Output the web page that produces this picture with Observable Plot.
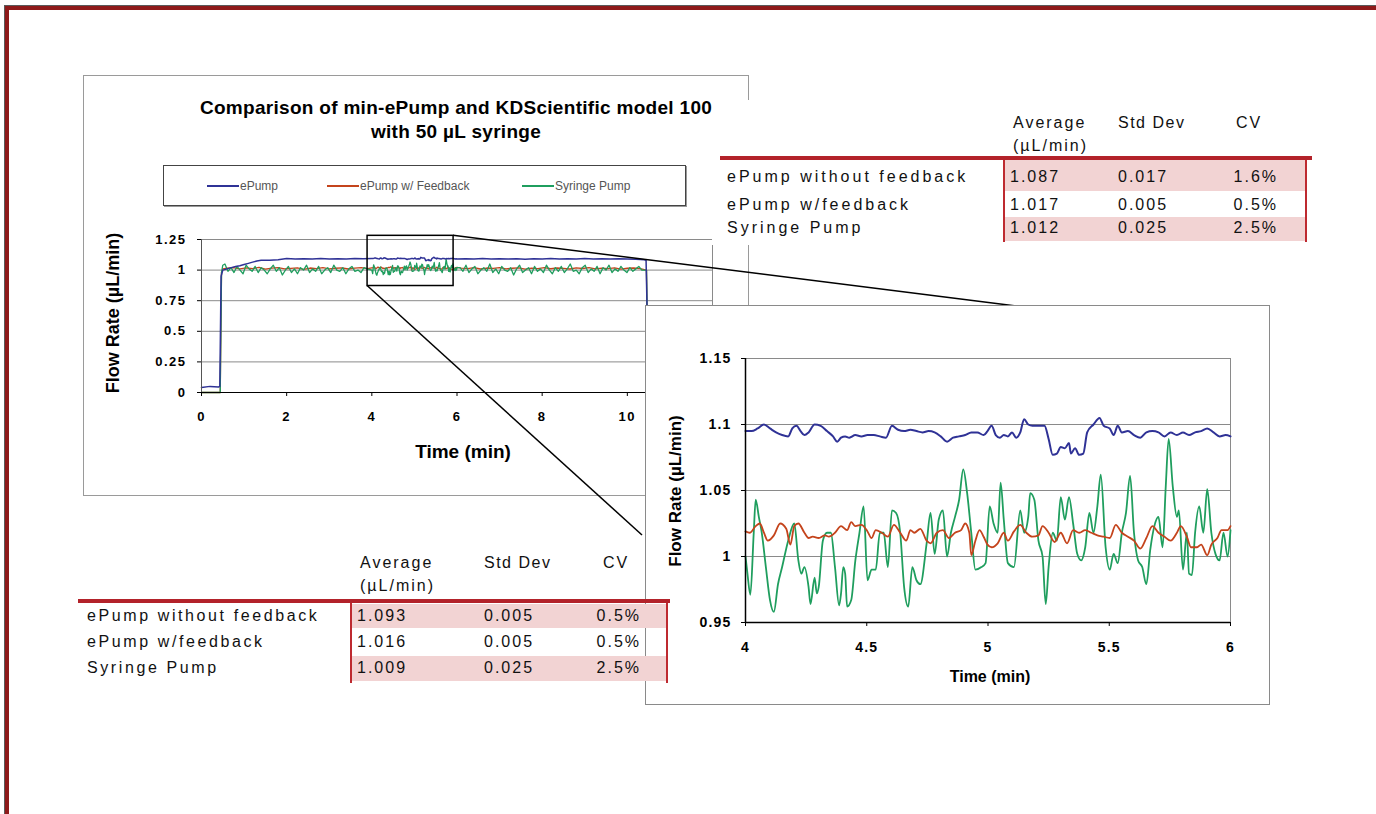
<!DOCTYPE html>
<html><head><meta charset="utf-8">
<script src="https://cdn.jsdelivr.net/npm/d3@7"></script>
<script src="https://cdn.jsdelivr.net/npm/@observablehq/plot@0.6"></script>
<style>
html,body{margin:0;padding:0;background:#fff;width:1376px;height:814px;overflow:hidden;position:relative;font-family:'Liberation Sans',Arial,sans-serif;}
.abs{position:absolute;}
#frame{position:absolute;left:5px;top:6px;width:2000px;height:2000px;border-top:4px solid #8e1a1a;border-left:4px solid #8e1a1a;box-shadow:-1px -1px 0 #5a5a5a;}
.panel{position:absolute;background:#fff;border:1px solid #9a9a9a;box-sizing:border-box;}
.bold{font-weight:bold;color:#000;white-space:nowrap;}
.rot{transform:translate(-50%,-50%) rotate(-90deg);}
.ctr{transform:translate(-50%,-50%);}
.tbl{position:absolute;}
.tbl div{position:absolute;white-space:nowrap;}
.tt{font-size:16px;letter-spacing:2px;line-height:20px;color:#111;}
.leg{font-size:12px;color:#555;line-height:14px;white-space:nowrap;}
svg{overflow:visible;}
</style>
</head><body>
<div id="frame"></div>
<div id="root"></div>
<script>
// ---------- DATA ----------
const seriesNames = ["ePump", "ePump w/ Feedback", "Syringe Pump"];
const seriesColors = ["#2f3296", "#c4441c", "#1f9e5e"];
const titleLines = ["Comparison of min-ePump and KDScientific model 100", "with 50 \u00b5L syringe"];
const yTitle = "Flow Rate (\u00b5L/min)";
const xTitle = "Time (min)";

const mainXTicks = [0, 2, 4, 6, 8, 10];
const mainYTicks = [0, 0.25, 0.5, 0.75, 1, 1.25];
const zoomXTicks = [4, 4.5, 5, 5.5, 6];
const zoomYTicks = [0.95, 1, 1.05, 1.1, 1.15];
const zoomWindow = [{x1: 3.9, x2: 5.92, y1: 0.87, y2: 1.28}];

// zoomed window 4-6 min
const zoomBlueT = [4.000,4.025,4.050,4.076,4.101,4.126,4.151,4.176,4.193,4.210,4.227,4.243,4.260,4.285,4.310,4.336,4.361,4.378,4.394,4.411,4.428,4.453,4.478,4.503,4.529,4.554,4.579,4.604,4.629,4.654,4.680,4.705,4.730,4.755,4.780,4.805,4.831,4.856,4.880,4.906,4.931,4.956,4.982,4.998,5.015,5.032,5.049,5.065,5.082,5.099,5.116,5.133,5.149,5.166,5.183,5.208,5.233,5.250,5.267,5.284,5.300,5.317,5.334,5.342,5.359,5.376,5.393,5.409,5.435,5.460,5.477,5.502,5.518,5.535,5.552,5.577,5.602,5.628,5.653,5.678,5.703,5.728,5.753,5.779,5.804,5.829,5.854,5.879,5.904,5.930,5.955,5.980,6.000];
const zoomBlueV = [1.095,1.095,1.097,1.100,1.097,1.094,1.092,1.091,1.097,1.099,1.095,1.092,1.094,1.100,1.099,1.095,1.091,1.087,1.090,1.091,1.090,1.092,1.091,1.092,1.092,1.091,1.090,1.099,1.096,1.095,1.096,1.095,1.094,1.095,1.094,1.091,1.087,1.090,1.091,1.092,1.094,1.094,1.092,1.095,1.099,1.092,1.090,1.092,1.091,1.094,1.090,1.094,1.104,1.100,1.099,1.099,1.099,1.089,1.077,1.078,1.083,1.082,1.086,1.078,1.082,1.077,1.078,1.094,1.100,1.105,1.099,1.097,1.092,1.099,1.094,1.095,1.092,1.090,1.094,1.095,1.094,1.091,1.094,1.092,1.094,1.092,1.094,1.095,1.097,1.094,1.091,1.092,1.091];
const zoomRedT = [4.000,4.017,4.042,4.059,4.076,4.092,4.117,4.143,4.168,4.185,4.201,4.218,4.243,4.260,4.277,4.302,4.327,4.344,4.369,4.394,4.419,4.436,4.453,4.478,4.503,4.520,4.537,4.562,4.587,4.612,4.638,4.663,4.680,4.696,4.721,4.747,4.763,4.789,4.814,4.839,4.864,4.889,4.906,4.923,4.931,4.948,4.965,4.982,4.998,5.015,5.040,5.065,5.082,5.107,5.133,5.158,5.183,5.208,5.225,5.250,5.275,5.300,5.326,5.351,5.376,5.401,5.426,5.451,5.477,5.502,5.527,5.552,5.577,5.602,5.628,5.653,5.678,5.703,5.728,5.753,5.779,5.795,5.820,5.837,5.862,5.879,5.904,5.921,5.946,5.963,5.988,6.000];
const zoomRedV = [1.019,1.018,1.023,1.025,1.018,1.012,1.016,1.025,1.021,1.009,1.023,1.025,1.018,1.014,1.015,1.014,1.016,1.015,1.018,1.023,1.020,1.026,1.023,1.024,1.019,1.014,1.020,1.018,1.015,1.024,1.018,1.012,1.020,1.018,1.021,1.012,1.010,1.018,1.020,1.014,1.018,1.020,1.025,1.018,1.001,1.012,1.020,1.015,1.009,1.007,1.010,1.018,1.012,1.019,1.024,1.018,1.015,1.016,1.023,1.018,1.011,1.018,1.010,1.020,1.018,1.020,1.018,1.016,1.015,1.014,1.024,1.018,1.015,1.012,1.006,1.014,1.023,1.018,1.015,1.012,1.018,1.023,1.015,1.007,1.007,1.009,1.001,1.009,1.014,1.020,1.020,1.023];
const zoomGreenT = [4.000,4.008,4.020,4.034,4.042,4.055,4.067,4.084,4.101,4.117,4.134,4.151,4.176,4.201,4.218,4.230,4.243,4.260,4.268,4.285,4.294,4.302,4.319,4.336,4.352,4.369,4.386,4.394,4.403,4.411,4.419,4.436,4.453,4.470,4.487,4.503,4.520,4.537,4.554,4.570,4.587,4.604,4.621,4.638,4.654,4.671,4.688,4.705,4.721,4.747,4.763,4.780,4.797,4.814,4.831,4.847,4.864,4.881,4.898,4.914,4.931,4.948,4.973,4.990,5.007,5.023,5.040,5.052,5.065,5.082,5.107,5.133,5.149,5.166,5.174,5.191,5.208,5.225,5.238,5.250,5.267,5.284,5.300,5.317,5.334,5.351,5.368,5.384,5.401,5.418,5.435,5.451,5.465,5.485,5.502,5.518,5.535,5.552,5.569,5.586,5.602,5.619,5.636,5.653,5.669,5.686,5.703,5.720,5.733,5.745,5.762,5.779,5.787,5.804,5.820,5.829,5.841,5.854,5.871,5.888,5.904,5.921,5.938,5.955,5.971,5.988,6.000];
const zoomGreenV = [1.000,0.987,0.971,1.018,1.043,1.030,1.018,0.992,0.967,0.958,0.979,0.992,1.012,1.025,0.997,0.987,0.992,0.977,0.964,0.984,0.972,0.977,1.012,1.018,1.018,0.992,0.963,0.972,0.992,0.987,0.962,0.967,0.997,1.018,1.038,0.982,0.990,0.990,1.018,1.018,0.992,1.035,1.033,1.018,0.977,0.962,0.992,0.982,0.979,1.010,1.033,1.002,1.028,1.035,1.000,1.018,1.030,1.043,1.066,1.048,1.018,0.990,0.992,0.995,1.038,1.025,1.018,1.056,1.028,0.995,0.992,1.035,1.018,1.030,1.048,1.043,1.012,1.000,0.964,0.992,1.018,1.012,1.045,1.028,1.045,1.025,1.002,0.997,1.007,1.033,1.018,1.038,1.062,1.007,0.990,1.002,0.995,1.018,1.033,1.061,1.018,0.997,0.992,0.979,1.005,1.023,1.030,1.007,1.053,1.089,1.053,1.030,1.035,0.990,1.018,0.987,0.986,1.018,1.038,1.018,1.051,1.018,1.002,0.997,1.018,1.000,1.020];

// full run, outside the 4-6 min window
const mainBlueEarlyT = [0,0.2,0.4,0.43,0.46,0.5,0.6,0.7,0.8,0.9,1.0,1.1,1.2,1.3,1.4,1.6,1.8,2.0,2.2,2.4,2.6,2.8,3.0,3.2,3.4,3.6,3.8];
const mainBlueEarlyV = [0.04,0.05,0.045,0.05,0.95,1.0,1.01,1.02,1.03,1.035,1.045,1.055,1.065,1.075,1.08,1.08,1.085,1.095,1.09,1.092,1.09,1.094,1.09,1.093,1.091,1.095,1.092];
const mainBlueLateT = [6.2,6.4,6.6,6.8,7.0,7.2,7.4,7.6,7.8,8.0,8.2,8.4,8.6,8.8,9.0,9.2,9.4,9.6,9.8,10.0,10.2,10.4,10.44,10.48,10.5];
const mainBlueLateV = [1.093,1.09,1.094,1.091,1.093,1.09,1.092,1.089,1.093,1.091,1.094,1.09,1.093,1.091,1.094,1.09,1.092,1.09,1.093,1.09,1.088,1.085,1.08,0.4,0.12];

const mainGreenRampT = [0,0.44,0.47,0.5];
const mainGreenRampV = [0,0,0.98,1.04];
const mainGreenEarlyV = [1.05,0.99,1.02,0.98,1.03,1.0,0.97,1.04,1.01,0.99,1.03,0.98,1.02,1.0,0.97,1.01,1.04,0.99,1.02,0.96,1.0,1.03,0.98,1.01,0.97,1.02,1.0,1.04,0.98,1.01,0.99,1.03,0.97,1.0,1.02,0.98,1.04,1.0,0.99,1.02,0.97,1.01,1.03,0.99,1.0,0.98,1.02,1.01];
const mainGreenLateV = [1.02,0.99,1.04,0.98,1.01,1.03,0.97,1.0,1.02,0.99,1.05,0.98,1.01,0.97,1.03,1.0,0.99,1.02,0.96,1.01,1.04,0.98,1.0,1.02,0.97,1.03,0.99,1.01,0.98,1.04,1.0,0.97,1.02,0.99,1.03,0.98,1.01,1.05,0.99,1.0,0.97,1.02,1.04,0.98,1.01,0.99,1.03,0.97,1.02,1.0,1.04,0.98,1.01,0.99,1.03,1.0,0.98,1.02,0.99,1.01,1.03,1.0];
const mainGreenEndT = [10.45,10.47,10.5];
const mainGreenEndV = [1.0,0.5,0];

const mainRedRampT = [0,0.44,0.47,0.5];
const mainRedRampV = [0,0,0.98,1.01];
const mainRedEarlyV = [1.015,1.02,1.01,1.018,1.012,1.022,1.008,1.016,1.02,1.01,1.014,1.019,1.006,1.017,1.012,1.021,1.01,1.015,1.018,1.009,1.016,1.02,1.012];
const mainRedLateV = [1.016,1.012,1.02,1.009,1.017,1.014,1.021,1.01,1.015,1.019,1.008,1.016,1.012,1.02,1.011,1.017,1.014,1.009,1.018,1.013,1.02,1.01,1.016,1.012,1.019,1.008,1.015,1.017,1.012];
const mainRedEndT = [10.45,10.48];
const mainRedEndV = [1.0,0];

// statistics tables
const tableHead = ["Average", "(\u00b5L/min)", "Std Dev", "CV"];
const rowLabels = ["ePump without feedback", "ePump w/feedback", "Syringe Pump"];
const fullAvg = ["1.093", "1.016", "1.009"];
const fullSd = ["0.005", "0.005", "0.025"];
const fullCv = ["0.5%", "0.5%", "2.5%"];
const zoomAvg = ["1.087", "1.017", "1.012"];
const zoomSd = ["0.017", "0.005", "0.025"];
const zoomCv = ["1.6%", "0.5%", "2.5%"];

// ---------- BUILD ----------
const pts = (ts, vs) => ts.slice(0, Math.min(ts.length, vs.length)).map((t, i) => ({t, v: vs[i]}));
const steps = (start, step, vs) => vs.map((v, i) => ({t: +(start + i * step).toFixed(3), v}));

const zoomBlue = pts(zoomBlueT, zoomBlueV);
const zoomRed = pts(zoomRedT, zoomRedV);
const zoomGreen = pts(zoomGreenT, zoomGreenV);

const mainBlue = [...pts(mainBlueEarlyT, mainBlueEarlyV), ...zoomBlue, ...pts(mainBlueLateT, mainBlueLateV)];
const mainGreen = [...pts(mainGreenRampT, mainGreenRampV), ...steps(0.55, 0.071, mainGreenEarlyV), ...zoomGreen,
  ...steps(6.07, 0.07, mainGreenLateV), ...pts(mainGreenEndT, mainGreenEndV)];
const mainRed = [...pts(mainRedRampT, mainRedRampV), ...steps(0.6, 0.15, mainRedEarlyV), ...zoomRed,
  ...steps(6.1, 0.15, mainRedLateV), ...pts(mainRedEndT, mainRedEndV)];

const root = document.getElementById("root");
function el(tag, cls, css, text, parent) {
  const e = document.createElement(tag);
  if (cls) e.className = cls;
  Object.assign(e.style, css || {});
  if (text != null) e.textContent = text;
  (parent || root).appendChild(e);
  return e;
}
const fontBold = "'Liberation Sans', Arial, sans-serif";

// layout
const L = {
  mainPanel: {left: 83, top: 75, width: 666, height: 421},
  mainSvg: {left: 130, top: 225, width: 600, height: 200, ml: 71, mr: 18, mt: 14, mb: 33},
  zoomPanel: {left: 645, top: 305, width: 625, height: 400},
  zoomSvg: {left: 680, top: 340, width: 570, height: 310, ml: 65, mr: 20, mt: 18, mb: 28}
};

// main panel
el("div", "panel", {left: L.mainPanel.left + "px", top: L.mainPanel.top + "px", width: L.mainPanel.width + "px", height: L.mainPanel.height + "px", zIndex: 1});
const titleBox = el("div", "abs bold", {left: "156px", top: "96px", width: "600px", textAlign: "center", fontSize: "19px", letterSpacing: "0.3px", lineHeight: "24px", zIndex: 2, whiteSpace: "normal"});
titleLines.forEach(t => el("div", null, {}, t, titleBox));

// legend
el("div", "abs", {left: "163px", top: "165px", width: "521px", height: "39px", border: "1px solid #444", boxShadow: "1px 1px 0 #999", background: "#fff", zIndex: 2});
const legX = [207, 327, 522];
seriesNames.forEach((n, i) => {
  el("div", "abs", {left: legX[i] + "px", top: "185px", width: "32px", height: "2px", background: seriesColors[i], zIndex: 3});
  el("div", "abs leg", {left: (legX[i] + 33) + "px", top: "179px", zIndex: 3}, n);
});

// main chart
const mainChart = Plot.plot({
  width: L.mainSvg.width, height: L.mainSvg.height,
  marginLeft: L.mainSvg.ml, marginRight: L.mainSvg.mr, marginTop: L.mainSvg.mt, marginBottom: L.mainSvg.mb,
  x: {domain: [0, 12], label: null},
  y: {domain: [0, 1.25], label: null},
  style: {fontFamily: fontBold, fontWeight: "bold", fontSize: "13px", letterSpacing: "1.5px", color: "#000", background: "transparent", overflow: "visible"},
  marks: [
    Plot.gridY(mainYTicks, {stroke: "#8a8a8a", strokeOpacity: 1}),
    Plot.frame({stroke: "#8a8a8a"}),
    Plot.line(mainRed, {x: "t", y: "v", stroke: seriesColors[1], strokeWidth: 1.3}),
    Plot.line(mainGreen, {x: "t", y: "v", stroke: seriesColors[2], strokeWidth: 1.3}),
    Plot.line(mainBlue, {x: "t", y: "v", stroke: seriesColors[0], strokeWidth: 1.5}),
    Plot.ruleY([0], {stroke: "#000"}),
    Plot.ruleX([0], {stroke: "#555"}),
    Plot.rect(zoomWindow, {x1: "x1", x2: "x2", y1: "y1", y2: "y2", fill: "none", stroke: "#000", strokeWidth: 1.5}),
    Plot.axisX(mainXTicks, {tickSize: 4, tickPadding: 15, label: null, tickFormat: d => String(d)}),
    Plot.axisY(mainYTicks, {tickSize: 4, tickPadding: 11, label: null, tickFormat: d => String(d)})
  ]
});
Object.assign(mainChart.style, {position: "absolute", left: L.mainSvg.left + "px", top: L.mainSvg.top + "px", zIndex: 2});
root.appendChild(mainChart);
el("div", "abs bold rot", {left: "113px", top: "313px", fontSize: "18px", zIndex: 2}, yTitle);
el("div", "abs bold ctr", {left: "463px", top: "452px", fontSize: "19px", zIndex: 2}, xTitle);

// connector lines from the window in the overview to the enlarged panel
const sx = mainChart.scale("x"), sy = mainChart.scale("y");
const w = zoomWindow[0];
const p1 = [L.mainSvg.left + sx.apply(w.x2), L.mainSvg.top + sy.apply(w.y2)];
const p2 = [L.mainSvg.left + sx.apply(w.x1), L.mainSvg.top + sy.apply(w.y1)];
const e1 = [L.zoomPanel.left + 0.594 * L.zoomPanel.width, L.zoomPanel.top + 1];
const e2 = [L.zoomPanel.left - 3, L.zoomPanel.top + 0.575 * L.zoomPanel.height];
const conn = d3.create("svg").attr("width", 1376).attr("height", 814)
  .style("position", "absolute").style("left", "0px").style("top", "0px").style("z-index", 3);
[[p1, e1], [p2, e2]].forEach(([a, b]) => conn.append("line").attr("x1", a[0]).attr("y1", a[1]).attr("x2", b[0]).attr("y2", b[1]).attr("stroke", "#000").attr("stroke-width", 1.5));
root.appendChild(conn.node());

// zoom panel
el("div", "panel", {left: L.zoomPanel.left + "px", top: L.zoomPanel.top + "px", width: L.zoomPanel.width + "px", height: L.zoomPanel.height + "px", zIndex: 4, borderColor: "#8a8a8a"});
const zoomChart = Plot.plot({
  width: L.zoomSvg.width, height: L.zoomSvg.height,
  marginLeft: L.zoomSvg.ml, marginRight: L.zoomSvg.mr, marginTop: L.zoomSvg.mt, marginBottom: L.zoomSvg.mb,
  x: {domain: [4, 6], label: null},
  y: {domain: [0.95, 1.15], label: null},
  style: {fontFamily: fontBold, fontWeight: "bold", fontSize: "14px", letterSpacing: "1.2px", color: "#000", background: "transparent", overflow: "visible"},
  marks: [
    Plot.gridY(zoomYTicks, {stroke: "#8a8a8a", strokeOpacity: 1, strokeWidth: 1.2}),
    Plot.frame({stroke: "#8a8a8a"}),
    Plot.line(zoomGreen, {x: "t", y: "v", stroke: seriesColors[2], strokeWidth: 1.8, curve: "monotone-x"}),
    Plot.line(zoomRed, {x: "t", y: "v", stroke: seriesColors[1], strokeWidth: 1.8, curve: "monotone-x"}),
    Plot.line(zoomBlue, {x: "t", y: "v", stroke: seriesColors[0], strokeWidth: 2, curve: "monotone-x"}),
    Plot.ruleY([0.95], {stroke: "#000", strokeWidth: 1.5}),
    Plot.ruleX([4], {stroke: "#000", strokeWidth: 1.5}),
    Plot.axisX(zoomXTicks, {tickSize: 4, tickPadding: 16, label: null, tickFormat: d => String(d)}),
    Plot.axisY(zoomYTicks, {tickSize: 4, tickPadding: 10, label: null, tickFormat: d => String(d)})
  ]
});
Object.assign(zoomChart.style, {position: "absolute", left: L.zoomSvg.left + "px", top: L.zoomSvg.top + "px", zIndex: 5});
root.appendChild(zoomChart);
el("div", "abs bold rot", {left: "676px", top: "491px", fontSize: "17px", zIndex: 5}, yTitle);
el("div", "abs bold ctr", {left: "990px", top: "677px", fontSize: "16px", zIndex: 5}, xTitle);

// tables
function buildTable(g, avg, sd, cv) {
  const t = el("div", "tbl", {left: g.left + "px", top: g.top + "px", width: g.width + "px", height: g.height + "px", background: g.bg, zIndex: 6});
  const shade = "#f2d3d3", red = "#be2a30";
  [0, 2].forEach(r => el("div", null, {left: g.cellL + "px", top: g.shadeTop[r] + "px", width: (g.cellR - g.cellL) + "px", height: g.shadeH[r] + "px", background: shade}, null, t));
  [g.cellL, g.cellR].forEach(x => el("div", null, {left: (x - 1) + "px", top: g.ruleTop + "px", width: "2px", height: g.vH + "px", background: red}, null, t));
  el("div", null, {left: g.ruleL + "px", top: g.ruleTop + "px", width: g.ruleW + "px", height: "4px", background: "#b3222a"}, null, t);
  el("div", "tt", {left: g.colAvg + "px", top: g.headTop + "px"}, tableHead[0], t);
  el("div", "tt", {left: g.colAvg + "px", top: (g.headTop + 23) + "px"}, tableHead[1], t);
  el("div", "tt", {left: g.colSd + "px", top: g.headTop + "px", letterSpacing: "1.5px"}, tableHead[2], t);
  el("div", "tt", {left: g.colCvHead + "px", top: g.headTop + "px"}, tableHead[3], t);
  rowLabels.forEach((lab, r) => {
    const top = g.rowC[r] - 10;
    el("div", "tt", {left: g.labelL + "px", top: top + "px", letterSpacing: g.labelLS}, lab, t);
    el("div", "tt", {left: (g.colAvg - 3) + "px", top: top + "px"}, avg[r], t);
    el("div", "tt", {left: g.colSd + "px", top: top + "px"}, sd[r], t);
    el("div", "tt", {left: (g.cvRight - 70) + "px", top: top + "px", width: "70px", textAlign: "right"}, cv[r], t);
  });
}
buildTable({left: 712, top: 100, width: 603, height: 145, bg: "#fff", cellL: 292, cellR: 594,
  shadeTop: [60, 0, 117], shadeH: [31, 0, 24], ruleTop: 56, vH: 86, ruleL: 8, ruleW: 592,
  headTop: 13, colAvg: 301, colSd: 406, colCvHead: 524, labelL: 15, labelLS: "3px", rowC: [77, 105, 128], cvRight: 566}, zoomAvg, zoomSd, zoomCv);
buildTable({left: 70, top: 545, width: 610, height: 145, bg: "transparent", cellL: 281, cellR: 597,
  shadeTop: [59, 0, 111], shadeH: [24, 0, 25], ruleTop: 54, vH: 84, ruleL: 8, ruleW: 592,
  headTop: 8, colAvg: 290, colSd: 414, colCvHead: 533, labelL: 17, labelLS: "2.6px", rowC: [71, 97, 123], cvRight: 571}, fullAvg, fullSd, fullCv);
</script>
</body></html>
